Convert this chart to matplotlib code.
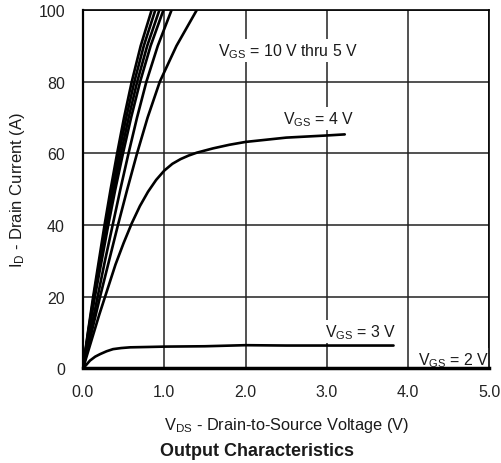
import matplotlib
matplotlib.use("Agg")
import matplotlib.pyplot as plt

plt.rcParams["font.family"] = ["Liberation Sans", "DejaVu Sans"]
plt.rcParams["mathtext.default"] = "regular"

# Output characteristics: drain current I_D (A) vs drain-to-source voltage V_DS (V)
id_steps = [0, 10, 20, 30, 40, 50, 60, 70, 80, 90, 100]
# V_GS = 10 V .. 7 V (steep bundle)
vds_10v = [0, 0.06, 0.125, 0.195, 0.265, 0.34, 0.42, 0.505, 0.60, 0.71, 0.845]
vds_9v = [0, 0.063, 0.132, 0.205, 0.279, 0.358, 0.442, 0.532, 0.632, 0.748, 0.89]
vds_8v = [0, 0.067, 0.139, 0.217, 0.295, 0.378, 0.467, 0.562, 0.667, 0.79, 0.94]
vds_7v = [0, 0.07, 0.146, 0.229, 0.311, 0.398, 0.492, 0.592, 0.703, 0.832, 0.99]
# V_GS = 6 V and 5 V (bending over near the top)
vds_6v = [0, 0.09, 0.18, 0.27, 0.365, 0.46, 0.56, 0.665, 0.78, 0.92, 1.09]
vds_5v = [0, 0.105, 0.21, 0.32, 0.43, 0.545, 0.665, 0.795, 0.945, 1.15, 1.40]
# V_GS = 4 V (saturates near 65 A)
vds_4v = [0, 0.1, 0.2, 0.3, 0.4, 0.5, 0.6, 0.7, 0.8, 0.9, 1.0, 1.1, 1.2, 1.3, 1.4,
          1.6, 1.8, 2.0, 2.5, 3.0, 3.22]
id_4v = [0, 7.5, 15, 22, 29, 35, 40.5, 45.3, 49.3, 52.6, 55.2, 57.1, 58.4, 59.4, 60.2,
         61.4, 62.4, 63.2, 64.4, 65.0, 65.3]
# V_GS = 3 V (saturates near 6 A)
vds_3v = [0, 0.04, 0.086, 0.15, 0.21, 0.29, 0.37, 0.47, 0.58, 0.80, 1.0, 1.5, 2.0, 2.5, 3.0, 3.5, 3.82]
id_3v = [0, 1.0, 2.2, 3.3, 4.0, 4.8, 5.4, 5.7, 5.9, 6.0, 6.1, 6.2, 6.5, 6.4, 6.4, 6.4, 6.4]
# V_GS = 2 V (essentially no conduction)
vds_2v = [0, 5.0]
id_2v = [0, 0]

x_ticks = [0, 1, 2, 3, 4, 5]
x_tick_labels = ["0.0", "1.0", "2.0", "3.0", "4.0", "5.0"]
y_ticks = [0, 20, 40, 60, 80, 100]
y_tick_labels = ["0", "20", "40", "60", "80", "100"]

fig = plt.figure(figsize=(5.02, 4.64), dpi=100)
ax = fig.add_axes([0.1653, 0.2037, 0.8097, 0.7726])

curve_kw = dict(color="black", lw=1.9, solid_capstyle="round", solid_joinstyle="round",
                zorder=3)
for xs in [vds_10v, vds_9v, vds_8v, vds_7v, vds_6v, vds_5v]:
    ax.plot(xs, id_steps, **curve_kw)
ax.plot(vds_4v, id_4v, **curve_kw)
ax.plot(vds_3v, id_3v, **curve_kw)
ax.plot(vds_2v, id_2v, color="black", lw=2.5, zorder=3, clip_on=False)

ax.set_xlim(0, 5)
ax.set_ylim(0, 100)
ax.set_xticks(x_ticks)
ax.set_xticklabels(x_tick_labels)
ax.set_yticks(y_ticks)
ax.set_yticklabels(y_tick_labels)
ax.tick_params(length=0, labelsize=11.5, colors="#222222")
ax.tick_params(axis="x", pad=11)
ax.tick_params(axis="y", pad=13)
ax.grid(True, color="#222222", lw=1.1, zorder=1)
ax.set_axisbelow(True)
for side in ["top", "right"]:
    ax.spines[side].set_linewidth(1.2)
ax.spines["left"].set_linewidth(1.6)
ax.spines["bottom"].set_linewidth(2.0)

# white boxes hide the grid behind the labels but stay under spines and curves
box = dict(facecolor="white", edgecolor="none", pad=1.5)
text_kw = dict(fontsize=11.4, color="#1a1a1a", va="center", ha="left", zorder=2, bbox=box)
ax.text(1.66, 88.6, "V$_{GS}$ = 10 V thru 5 V", **text_kw)
ax.text(2.46, 69.8, "V$_{GS}$ = 4 V", **text_kw)
ax.text(2.98, 10.3, "V$_{GS}$ = 3 V", **text_kw)
ax.text(4.12, 2.4, "V$_{GS}$ = 2 V", **text_kw)

ax.set_xlabel("V$_{DS}$ - Drain-to-Source Voltage (V)", fontsize=11.8, color="#1a1a1a",
              labelpad=12)
ax.set_ylabel("I$_{D}$ - Drain Current (A)", fontsize=12, color="#1a1a1a", labelpad=8)
fig.text(0.512, 0.026, "Output Characteristics", fontsize=13, fontweight="bold",
         color="#1a1a1a", ha="center", va="center")

fig.savefig("out.png", dpi=100)
